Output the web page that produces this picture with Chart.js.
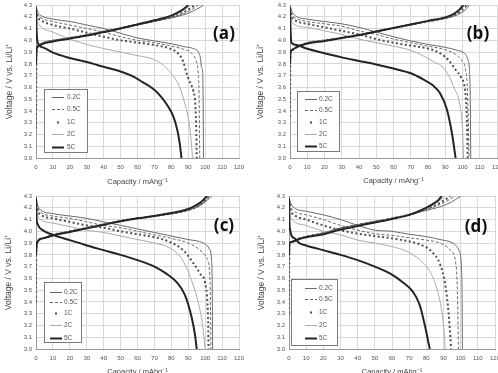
<!DOCTYPE html>
<html>
<head>
<meta charset="utf-8">
<script src="https://cdn.jsdelivr.net/npm/chart.js@4.4.1/dist/chart.umd.min.js"></script>
<style>
    body { margin: 0; width: 498px; height: 373px; overflow: hidden; background: #fff; position: relative; }
    .panel { position: absolute; height: 195px; }
</style>
</head>
<body>
<div class="panel" style="left:0;top:0;width:249px"><canvas id="chartA"></canvas></div>
<div class="panel" style="left:250px;top:0;width:248px"><canvas id="chartB"></canvas></div>
<div class="panel" style="left:0;top:185px;width:249px"><canvas id="chartC"></canvas></div>
<div class="panel" style="left:250px;top:185px;width:248px"><canvas id="chartD"></canvas></div>
<script>
// C-rates and axis ticks
const rates = ['0.2C', '0.5C', '1C', '2C', '5C'];
const capTicks = [0, 10, 20, 30, 40, 50, 60, 70, 80, 90, 100, 110, 120];
const voltTicks = [3.0, 3.1, 3.2, 3.3, 3.4, 3.5, 3.6, 3.7, 3.8, 3.9, 4.0, 4.1, 4.2, 4.3];

// (a) discharge, [capacity, voltage]
const a_dis_02 = [[0,4.29],[1,4.24],[3,4.21],[10,4.18],[20,4.16],[30,4.13],[40,4.10],[50,4.06],[60,4.02],[70,3.995],[80,3.97],[88,3.945],[93,3.93],[96,3.9],[97.3,3.84],[97.8,3.77],[98.5,3.73],[98.8,3.5],[99,3.0]];
const a_dis_05 = [[0,4.27],[1,4.22],[3,4.19],[10,4.16],[20,4.13],[30,4.10],[40,4.07],[50,4.03],[60,4.0],[70,3.98],[80,3.95],[87,3.925],[92,3.89],[94.5,3.83],[95.8,3.74],[96.3,3.6],[96.6,3.3],[96.8,3.0]];
const a_dis_1 = [[0,4.26],[1,4.2],[3,4.17],[10,4.13],[20,4.10],[30,4.065],[40,4.03],[50,4.0],[60,3.98],[70,3.96],[80,3.925],[84,3.89],[87,3.82],[89,3.72],[91,3.64],[93,3.57],[94.2,3.45],[94.8,3.2],[95,3.0]];
const a_dis_2 = [[0,4.25],[0.5,4.18],[2,4.13],[10,4.07],[20,4.01],[30,3.965],[40,3.93],[50,3.9],[60,3.87],[70,3.835],[76,3.78],[81,3.7],[85,3.6],[88,3.46],[90.5,3.3],[92,3.1],[92.5,3.0]];
const a_dis_5 = [[0,4.28],[0.3,4.1],[1,3.98],[4,3.94],[10,3.895],[20,3.85],[30,3.815],[40,3.775],[50,3.735],[57,3.695],[63,3.645],[69,3.59],[74,3.52],[78,3.44],[81,3.36],[83.5,3.24],[85,3.12],[86,3.0]];
// (a) charge
const a_chg_02 = [[0,3.8],[0.3,3.92],[1,3.95],[4,3.98],[10,4.0],[20,4.02],[30,4.045],[40,4.075],[50,4.105],[60,4.13],[70,4.16],[80,4.19],[88,4.22],[93,4.25],[97,4.28],[99,4.3]];
const a_chg_05 = [[0,3.78],[0.3,3.92],[1,3.95],[4,3.98],[10,4.0],[20,4.02],[30,4.045],[40,4.075],[50,4.105],[60,4.135],[70,4.165],[80,4.195],[87,4.225],[92,4.26],[96,4.3]];
const a_chg_1 = [[0,3.25],[0.1,3.6],[0.3,3.9],[1,3.95],[4,3.975],[10,3.995],[20,4.02],[30,4.045],[40,4.075],[50,4.105],[60,4.135],[70,4.165],[80,4.2],[86,4.23],[90,4.26],[94,4.3]];
const a_chg_2 = [[0,3.8],[0.3,3.92],[1,3.95],[4,3.975],[10,3.995],[20,4.02],[30,4.045],[40,4.075],[50,4.105],[60,4.135],[70,4.17],[80,4.205],[85,4.235],[89,4.27],[92,4.3]];
const a_chg_5 = [[0,3.8],[0.3,3.92],[1,3.945],[4,3.97],[10,3.99],[20,4.015],[30,4.04],[40,4.07],[50,4.1],[60,4.135],[70,4.17],[80,4.21],[85,4.245],[88,4.275],[90,4.3]];

// (b) discharge
const b_dis_02 = [[0,4.3],[1,4.25],[3,4.21],[10,4.18],[20,4.16],[30,4.14],[40,4.11],[50,4.07],[60,4.03],[70,3.995],[80,3.965],[90,3.94],[97,3.915],[101,3.89],[103,3.84],[104,3.75],[104.5,3.5],[104.8,3.0]];
const b_dis_05 = [[0,4.28],[1,4.22],[3,4.19],[10,4.16],[20,4.14],[30,4.12],[40,4.08],[50,4.05],[60,4.01],[70,3.98],[80,3.95],[90,3.92],[96,3.88],[99.5,3.83],[101.8,3.75],[102.8,3.6],[103.4,3.3],[103.8,3.0]];
const b_dis_1 = [[0,4.27],[1,4.2],[3,4.17],[10,4.14],[20,4.11],[30,4.08],[40,4.05],[50,4.01],[60,3.98],[70,3.955],[80,3.93],[87,3.89],[92,3.83],[96,3.75],[99,3.69],[101,3.62],[102,3.5],[102.6,3.3],[103,3.0]];
const b_dis_2 = [[0,4.26],[0.5,4.19],[2,4.14],[10,4.11],[20,4.08],[30,4.05],[40,4.01],[50,3.98],[60,3.95],[70,3.915],[77,3.87],[83,3.82],[88,3.78],[92,3.7],[95,3.6],[98.5,3.45],[100,3.25],[100.6,3.0]];
const b_dis_5 = [[0,4.28],[0.3,4.1],[0.8,3.98],[3.7,3.96],[9.5,3.93],[20,3.89],[30,3.855],[40,3.825],[50,3.795],[60,3.76],[70,3.72],[77,3.67],[83,3.615],[87,3.55],[91,3.41],[94,3.2],[96,3.0]];
// (b) charge
const b_chg_02 = [[0,3.8],[0.3,3.9],[0.8,3.915],[3.7,3.94],[9.5,3.975],[20,4.0],[30,4.02],[40,4.045],[50,4.075],[60,4.105],[70,4.135],[80,4.16],[90,4.185],[96,4.21],[100,4.24],[102.5,4.27],[104,4.3]];
const b_chg_05 = [[0,3.8],[0.3,3.9],[0.8,3.915],[3.7,3.94],[9.5,3.975],[20,4.0],[30,4.02],[40,4.045],[50,4.075],[60,4.105],[70,4.135],[80,4.16],[90,4.19],[96,4.215],[100,4.25],[103,4.3]];
const b_chg_1 = [[0,3.35],[0.1,3.7],[0.3,3.9],[0.8,3.915],[3.7,3.94],[9.5,3.975],[20,4.0],[30,4.02],[40,4.045],[50,4.075],[60,4.105],[70,4.135],[80,4.16],[90,4.19],[95,4.215],[99.5,4.26],[102.5,4.3]];
const b_chg_2 = [[0,3.8],[0.3,3.9],[0.8,3.915],[3.7,3.94],[9.5,3.975],[20,4.0],[30,4.02],[40,4.045],[50,4.075],[60,4.105],[70,4.135],[80,4.16],[90,4.19],[95,4.22],[99,4.26],[101.5,4.3]];
const b_chg_5 = [[0,3.8],[0.3,3.9],[0.8,3.915],[3.7,3.94],[9.5,3.97],[20,3.995],[30,4.02],[40,4.045],[50,4.075],[60,4.105],[70,4.135],[80,4.165],[90,4.195],[95,4.225],[98.5,4.265],[100.5,4.3]];

// (c) discharge
const c_dis_02 = [[0,4.29],[1,4.22],[3,4.18],[10,4.15],[20,4.13],[30,4.11],[40,4.08],[50,4.05],[60,4.02],[70,3.99],[80,3.96],[90,3.93],[99,3.9],[102.5,3.85],[103.8,3.75],[104.2,3.5],[104.4,3.0]];
const c_dis_05 = [[0,4.28],[1,4.2],[3,4.16],[10,4.13],[20,4.11],[30,4.08],[40,4.05],[50,4.03],[60,4.0],[70,3.97],[80,3.94],[90,3.9],[97,3.84],[101,3.77],[102.6,3.66],[103.1,3.4],[103.4,3.0]];
const c_dis_1 = [[0,4.27],[1,4.18],[3,4.14],[10,4.11],[20,4.08],[30,4.05],[40,4.03],[50,4.0],[60,3.975],[70,3.95],[79,3.91],[87,3.84],[93,3.73],[97,3.64],[100,3.56],[101.3,3.4],[101.8,3.2],[102,3.0]];
const c_dis_2 = [[0,4.26],[0.5,4.17],[2,4.11],[10,4.07],[20,4.04],[30,4.01],[40,3.99],[50,3.96],[60,3.93],[70,3.9],[79,3.86],[85,3.79],[89,3.69],[92,3.58],[95.5,3.42],[98.5,3.2],[100,3.0]];
const c_dis_5 = [[0,4.28],[0.3,4.12],[1,4.06],[4,4.01],[10,3.97],[20,3.925],[30,3.88],[40,3.84],[50,3.8],[60,3.755],[70,3.7],[77,3.64],[83,3.57],[88,3.46],[92,3.27],[94,3.12],[95,3.0]];
// (c) charge
const c_chg_02 = [[0,3.8],[0.5,3.9],[4,3.94],[10,3.97],[20,4.0],[30,4.03],[40,4.06],[50,4.09],[60,4.11],[70,4.13],[80,4.15],[90,4.18],[96,4.21],[100,4.25],[102.5,4.28],[104,4.3]];
const c_chg_05 = [[0,3.8],[0.5,3.9],[4,3.94],[10,3.97],[20,4.0],[30,4.03],[40,4.06],[50,4.09],[60,4.11],[70,4.13],[80,4.15],[90,4.18],[95,4.21],[99.5,4.25],[103,4.3]];
const c_chg_1 = [[0,3.4],[0.1,3.75],[0.5,3.9],[4,3.94],[10,3.97],[20,4.0],[30,4.03],[40,4.06],[50,4.09],[60,4.11],[70,4.13],[80,4.15],[90,4.18],[95,4.21],[99,4.25],[102,4.3]];
const c_chg_2 = [[0,3.8],[0.5,3.9],[4,3.94],[10,3.97],[20,4.0],[30,4.03],[40,4.06],[50,4.09],[60,4.11],[70,4.13],[80,4.155],[90,4.185],[95,4.215],[99,4.26],[101.5,4.3]];
const c_chg_5 = [[0,3.8],[0.5,3.9],[4,3.94],[10,3.965],[20,3.995],[30,4.025],[40,4.055],[50,4.085],[60,4.11],[70,4.13],[80,4.155],[90,4.19],[94.5,4.22],[98.5,4.26],[101,4.3]];

// (d) discharge
const d_dis_02 = [[0,4.29],[1,4.24],[3,4.2],[10,4.17],[20,4.14],[30,4.1],[40,4.05],[50,4.01],[60,4.0],[70,3.975],[80,3.955],[88,3.93],[95.5,3.9],[99,3.84],[100.5,3.68],[100.9,3.3],[101,3.0]];
const d_dis_05 = [[0,4.28],[1,4.21],[3,4.17],[10,4.14],[20,4.1],[30,4.05],[40,4.01],[50,3.98],[60,3.965],[70,3.945],[80,3.925],[88,3.9],[94,3.84],[97,3.74],[98,3.54],[98.5,3.2],[98.7,3.0]];
const d_dis_1 = [[0,4.27],[1,4.18],[3,4.14],[10,4.1],[20,4.05],[30,4.01],[40,3.98],[50,3.96],[60,3.94],[68,3.92],[76,3.89],[83,3.83],[88,3.72],[91,3.55],[93,3.3],[94,3.1],[94.4,3.0]];
const d_dis_2 = [[0,4.26],[0.5,4.16],[2,4.1],[10,4.05],[20,4.0],[30,3.97],[40,3.925],[50,3.9],[60,3.87],[68.5,3.83],[76,3.76],[82,3.66],[86,3.52],[89,3.32],[90.5,3.12],[91,3.0]];
const d_dis_5 = [[0,4.28],[0.4,4.03],[3.3,3.94],[6,3.9],[10,3.88],[20,3.84],[30,3.8],[40,3.755],[50,3.7],[59,3.64],[66,3.57],[72,3.49],[76,3.38],[79,3.21],[82,3.0]];
// (d) charge
const d_chg_02 = [[0,3.8],[0.3,3.9],[1.4,3.91],[6,3.94],[10,3.955],[20,3.985],[30,4.025],[40,4.055],[50,4.085],[60,4.11],[70,4.14],[78,4.17],[86,4.2],[92,4.23],[97,4.27],[100,4.3]];
const d_chg_05 = [[0,3.8],[0.3,3.9],[1.4,3.91],[6,3.94],[10,3.955],[20,3.99],[30,4.03],[40,4.06],[50,4.085],[60,4.11],[70,4.14],[78,4.175],[85,4.21],[91,4.25],[97,4.3]];
const d_chg_1 = [[0,3.3],[0.1,3.7],[0.3,3.9],[1.4,3.91],[6,3.94],[10,3.955],[20,3.98],[30,4.02],[40,4.05],[50,4.08],[60,4.11],[70,4.14],[78,4.18],[85,4.22],[90,4.26],[94,4.3]];
const d_chg_2 = [[0,3.8],[0.3,3.9],[1.4,3.91],[6,3.94],[10,3.955],[20,3.98],[30,4.02],[40,4.05],[50,4.08],[60,4.11],[70,4.145],[78,4.185],[84,4.225],[88,4.265],[91,4.3]];
const d_chg_5 = [[0,3.8],[0.3,3.9],[1.4,3.91],[6,3.935],[10,3.95],[20,3.975],[30,4.015],[40,4.045],[50,4.075],[60,4.105],[70,4.14],[77,4.18],[83,4.225],[87,4.265],[89,4.3]];

// line styles per rate
const rateStyle = {
    '0.2C': { color: '#6a6a6a', width: 1, dash: [] },
    '0.5C': { color: '#6a6a6a', width: 1, dash: [3, 2] },
    '1C':   { color: '#4e4e4e', width: 2, dash: [2, 2.5] },
    '2C':   { color: '#aaaaaa', width: 1, dash: [] },
    '5C':   { color: '#242424', width: 2, dash: [] }
};

const FONT = "'Liberation Sans', Arial, sans-serif";
Chart.defaults.font.family = FONT;

// legend box + panel tag drawn inside the plot area
const panelDecor = {
    id: 'panelDecor',
    afterDraw(chart, args, opts) {
        const ctx = chart.ctx;
        const [bx, by, bw, bh] = opts.box;
        ctx.save();
        ctx.fillStyle = '#fff';
        ctx.fillRect(bx, by, bw, bh);
        ctx.strokeStyle = '#7a7a7a';
        ctx.lineWidth = 1;
        ctx.strokeRect(bx + 0.5, by + 0.5, bw, bh);

        ctx.font = '6.5px ' + FONT;
        ctx.textBaseline = 'middle';
        ctx.textAlign = 'left';
        rates.forEach((r, i) => {
            const st = rateStyle[r];
            const y = opts.rows[i] + 0.5;
            ctx.strokeStyle = st.color;
            ctx.fillStyle = st.color;
            if (r === '1C') {
                const cx = (opts.lineX[0] + opts.lineX[1]) / 2;
                ctx.fillRect(cx - 1, y - 1, 2, 2);
            } else {
                ctx.lineWidth = st.width;
                ctx.setLineDash(st.dash);
                ctx.beginPath();
                ctx.moveTo(opts.lineX[0], y);
                ctx.lineTo(opts.lineX[1], y);
                ctx.stroke();
                ctx.setLineDash([]);
            }
            ctx.fillStyle = '#555';
            ctx.fillText(r, opts.textX, y);
        });

        ctx.font = 'bold 17px "Open Sans", ' + FONT;
        ctx.textAlign = 'center';
        ctx.fillStyle = '#111';
        ctx.fillText(opts.tag, opts.tagX, opts.tagY);
        ctx.restore();
    }
};

function makeDataset(rate, points) {
    const st = rateStyle[rate];
    return {
        label: rate,
        data: points.map(p => ({ x: p[0], y: p[1] })),
        borderColor: st.color,
        borderWidth: st.width,
        borderDash: st.dash,
        pointRadius: 0,
        cubicInterpolationMode: 'monotone',
        fill: false
    };
}

function makePanel(canvasId, cfg, discharge, charge) {
    const H = 195;
    const ctx = document.getElementById(canvasId).getContext('2d');
    const datasets = [];
    // 5C first so it is drawn on top
    for (let i = rates.length - 1; i >= 0; i--) {
        datasets.push(makeDataset(rates[i], discharge[i]));
        datasets.push(makeDataset(rates[i], charge[i]));
    }
    return new Chart(ctx, {
        type: 'line',
        data: { datasets },
        options: {
            responsive: true,
            maintainAspectRatio: false,
            animation: false,
            events: [],
            layout: { padding: { left: 0, top: cfg.area.t, right: cfg.width - cfg.area.r, bottom: 0 } },
            plugins: {
                legend: { display: false },
                tooltip: { enabled: false },
                panelDecor: cfg.decor
            },
            scales: {
                x: {
                    type: 'linear',
                    min: 0,
                    max: 120,
                    afterBuildTicks: s => { s.ticks = capTicks.map(v => ({ value: v })); },
                    ticks: { font: { size: 6 }, color: '#555', padding: 6, maxRotation: 0, autoSkip: false },
                    grid: { color: '#d8d8d8', drawTicks: false },
                    border: { color: '#999' },
                    title: {
                        display: true,
                        text: 'Capacity / mAhg⁻¹',
                        font: { size: 7.5 },
                        color: '#444',
                        padding: { top: 0, bottom: (H - cfg.xTitleY) - 4.5 }
                    },
                    afterFit: s => {
                        s.height = H - cfg.area.b;
                        s.paddingLeft = 0;
                        s.paddingRight = 0;
                    }
                },
                y: {
                    type: 'linear',
                    min: 3.0,
                    max: 4.3,
                    afterBuildTicks: s => { s.ticks = voltTicks.map(v => ({ value: v })); },
                    ticks: { font: { size: 6 }, color: '#555', padding: 4, callback: v => v.toFixed(1) },
                    grid: { color: '#d8d8d8', drawTicks: false },
                    border: { color: '#999' },
                    title: {
                        display: true,
                        text: 'Voltage / V vs. Li/Li⁺',
                        font: { size: 8.5 },
                        color: '#444',
                        padding: { top: cfg.yTitleX - 5.1, bottom: 0 }
                    },
                    afterFit: s => {
                        s.width = cfg.area.l;
                        s.paddingTop = 0;
                        s.paddingBottom = 0;
                    }
                }
            }
        },
        plugins: [panelDecor]
    });
}

makePanel('chartA', {
    width: 249, area: { l: 36, r: 239, t: 5, b: 158 }, xTitleY: 182, yTitleX: 10,
    decor: { tag: '(a)', tagX: 224, tagY: 34, box: [44, 89, 43, 63], rows: [97, 109, 122, 134, 147], lineX: [52, 64], textX: 67 }
}, [a_dis_02, a_dis_05, a_dis_1, a_dis_2, a_dis_5], [a_chg_02, a_chg_05, a_chg_1, a_chg_2, a_chg_5]);

makePanel('chartB', {
    width: 248, area: { l: 40, r: 247, t: 5, b: 158 }, xTitleY: 181, yTitleX: 11,
    decor: { tag: '(b)', tagX: 228, tagY: 34, box: [47, 91, 42, 60], rows: [99, 110, 122, 134, 146], lineX: [55, 67], textX: 69 }
}, [b_dis_02, b_dis_05, b_dis_1, b_dis_2, b_dis_5], [b_chg_02, b_chg_05, b_chg_1, b_chg_2, b_chg_5]);

makePanel('chartC', {
    width: 249, area: { l: 36, r: 239, t: 11, b: 164 }, xTitleY: 187, yTitleX: 9,
    decor: { tag: '(c)', tagX: 224, tagY: 41, box: [44, 97, 37, 60], rows: [107, 117, 128, 140, 153], lineX: [50, 62], textX: 64 }
}, [c_dis_02, c_dis_05, c_dis_1, c_dis_2, c_dis_5], [c_chg_02, c_chg_05, c_chg_1, c_chg_2, c_chg_5]);

makePanel('chartD', {
    width: 248, area: { l: 39, r: 245, t: 11, b: 164 }, xTitleY: 187, yTitleX: 12,
    decor: { tag: '(d)', tagX: 226, tagY: 42, box: [41, 94, 46, 66], rows: [103, 114, 127, 140, 153], lineX: [55, 67], textX: 69 }
}, [d_dis_02, d_dis_05, d_dis_1, d_dis_2, d_dis_5], [d_chg_02, d_chg_05, d_chg_1, d_chg_2, d_chg_5]);
</script>
</body>
</html>
